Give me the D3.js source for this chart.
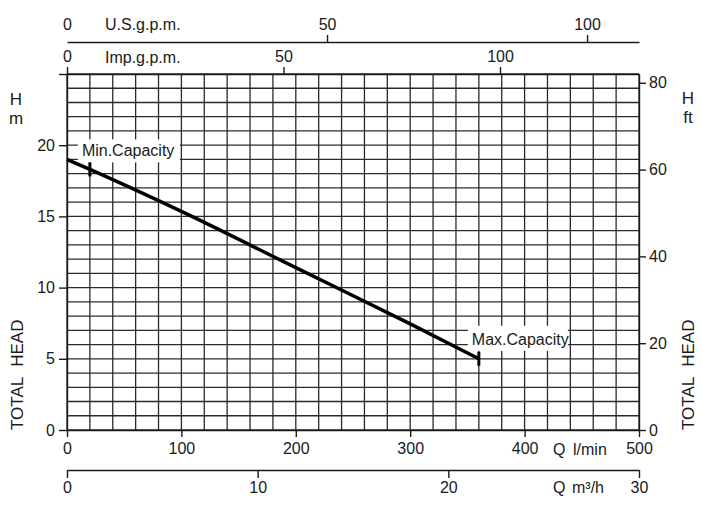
<!DOCTYPE html>
<html>
<head>
<meta charset="utf-8">
<script src="https://cdn.jsdelivr.net/npm/d3@7"></script>
<style>
    body { margin: 0; background: #fff; }
    text { font-family: "Liberation Sans", Arial, sans-serif; fill: #1a1a1a; }
</style>
</head>
<body>
<div id="chart"></div>
<script>
// Pump curve: flow in l/min, total head in m
const flow = [0, 20, 100, 200, 300, 360];
const head = [19, 18.3, 15.35, 11.4, 7.45, 5];

// Operating limits marked on the curve
const limitNames = ["Min.Capacity", "Max.Capacity"];
const limitFlow = [20, 360];

// Tick labels for each scale
const lpmTicks = [0, 100, 200, 300, 400, 500];
const m3hTicks = [0, 10, 20, 30];
const usTicks = [0, 50, 100];
const impTicks = [0, 50, 100];
const headTicks = [0, 5, 10, 15, 20];
const ftTicks = [0, 20, 40, 60, 80];

// Litres per gallon for the two gallon scales, as they are drawn
const usLitres = 4.546;
const impLitres = 3.785;

const W = 701, H = 515;
const plotL = 67, plotR = 639, plotT = 74, plotB = 430;

const svg = d3.select("#chart")
    .append("svg")
    .attr("width", W)
    .attr("height", H);

// Scales
const x = d3.scaleLinear().domain([0, 500]).range([plotL, plotR]);
const y = d3.scaleLinear().domain([0, 25]).range([plotB, plotT]);
const yFt = d3.scaleLinear().domain([0, 25 / 0.3048]).range([plotB, plotT]);
const xM3 = d3.scaleLinear().domain([0, 30]).range([plotL, plotR]);
const xUS = d3.scaleLinear().domain([0, 500 / usLitres]).range([plotL, plotR]);
const xImp = d3.scaleLinear().domain([0, 500 / impLitres]).range([plotL, plotR]);

// Grid: 20 l/min columns, 1 m rows
const grid = svg.append("g")
    .attr("stroke", "#2a2a2a")
    .attr("stroke-width", 1.3);

grid.selectAll(".v")
    .data(d3.range(0, 501, 20))
    .enter().append("line")
    .attr("x1", d => x(d)).attr("x2", d => x(d))
    .attr("y1", plotT).attr("y2", plotB);

grid.selectAll(".h")
    .data(d3.range(0, 26))
    .enter().append("line")
    .attr("x1", plotL).attr("x2", plotR)
    .attr("y1", d => y(d)).attr("y2", d => y(d));

// Helper to restyle a d3 axis
function styleAxis(g) {
    g.attr("font-size", null).attr("font-family", null);
    g.selectAll("path").attr("stroke", "#1a1a1a").attr("stroke-width", 1.4);
    g.selectAll("line").attr("stroke", "#1a1a1a").attr("stroke-width", 1.4);
    g.selectAll("text").style("font-size", "16px");
}

// Bottom l/min axis
svg.append("g")
    .attr("transform", `translate(0,${plotB})`)
    .call(d3.axisBottom(x).tickValues(lpmTicks).tickSize(7).tickSizeOuter(0).tickPadding(6))
    .call(styleAxis);

// Bottom m3/h axis
svg.append("g")
    .attr("transform", "translate(0,470)")
    .call(d3.axisBottom(xM3).tickValues(m3hTicks).tickSize(8).tickSizeOuter(0).tickPadding(4))
    .call(styleAxis);

// Top gallon axes
svg.append("g")
    .attr("transform", "translate(0,42)")
    .call(d3.axisTop(xUS).tickValues(usTicks).tickSize(7).tickSizeOuter(0).tickPadding(5))
    .call(styleAxis)
    .selectAll(".tick line").filter(d => d === 0).remove();

svg.append("g")
    .attr("transform", `translate(0,${plotT})`)
    .call(d3.axisTop(xImp).tickValues(impTicks).tickSize(7).tickSizeOuter(0).tickPadding(5))
    .call(styleAxis);

// Left head axis (m)
svg.append("g")
    .attr("transform", `translate(${plotL},0)`)
    .call(d3.axisLeft(y).tickValues(headTicks.concat([25])).tickFormat(d => d === 25 ? "" : d)
        .tickSize(8).tickSizeOuter(0).tickPadding(4))
    .call(styleAxis);

// Right head axis (ft)
svg.append("g")
    .attr("transform", `translate(${plotR},0)`)
    .call(d3.axisRight(yFt).tickValues(ftTicks).tickSize(7).tickSizeOuter(0).tickPadding(3))
    .call(styleAxis);

// Unit labels (Q set apart from its unit)
const units = svg.append("g").style("font-size", "16px");
units.append("text").attr("x", 105).attr("y", 30).text("U.S.g.p.m.");
units.append("text").attr("x", 105).attr("y", 63).text("Imp.g.p.m.");
units.append("text").attr("x", 553).attr("y", 455).text("Q");
units.append("text").attr("x", 573).attr("y", 455).text("l/min");
units.append("text").attr("x", 553).attr("y", 493).text("Q");
units.append("text").attr("x", 572).attr("y", 493).text("m³/h");

const big = svg.append("g").style("font-size", "17px").attr("text-anchor", "middle");
big.append("text").attr("x", 16).attr("y", 105).text("H");
big.append("text").attr("x", 16).attr("y", 124).text("m");
big.append("text").attr("x", 688).attr("y", 104).text("H");
big.append("text").attr("x", 688).attr("y", 123).text("ft");

[23, 694].forEach(function(bx) {
    const t = svg.append("text")
        .attr("transform", `translate(${bx},${plotB}) rotate(-90)`)
        .style("font-size", "17px");
    t.append("tspan").text("TOTAL");
    t.append("tspan").attr("dx", 10).text("HEAD");
});

// White label boxes for the limits
const boxes = [
    { dx: -12, dy: -30, w: 102, h: 23 },
    { dx: -11, dy: -33, w: 100, h: 25 }
];
limitFlow.forEach(function(f, i) {
    const px = x(f), py = y(head[flow.indexOf(f)]);
    const b = boxes[i];
    svg.append("rect")
        .attr("x", px + b.dx).attr("y", py + b.dy)
        .attr("width", b.w).attr("height", b.h)
        .attr("fill", "#fff");
    svg.append("text")
        .attr("x", px + b.dx + 4)
        .attr("y", py + b.dy + b.h - 6)
        .style("font-size", "16px")
        .text(limitNames[i]);
});

// Performance curve
const line = d3.line()
    .x((d, i) => x(flow[i]))
    .y(d => y(d))
    .curve(d3.curveMonotoneX);

svg.append("path")
    .datum(head)
    .attr("d", line)
    .attr("fill", "none")
    .attr("stroke", "#000")
    .attr("stroke-width", 3.5);

// Limit markers
svg.selectAll(".limit")
    .data(limitFlow)
    .enter().append("line")
    .attr("x1", d => x(d)).attr("x2", d => x(d))
    .attr("y1", d => y(head[flow.indexOf(d)]) - 7)
    .attr("y2", d => y(head[flow.indexOf(d)]) + 7)
    .attr("stroke", "#000")
    .attr("stroke-width", 3);
</script>
</body>
</html>
